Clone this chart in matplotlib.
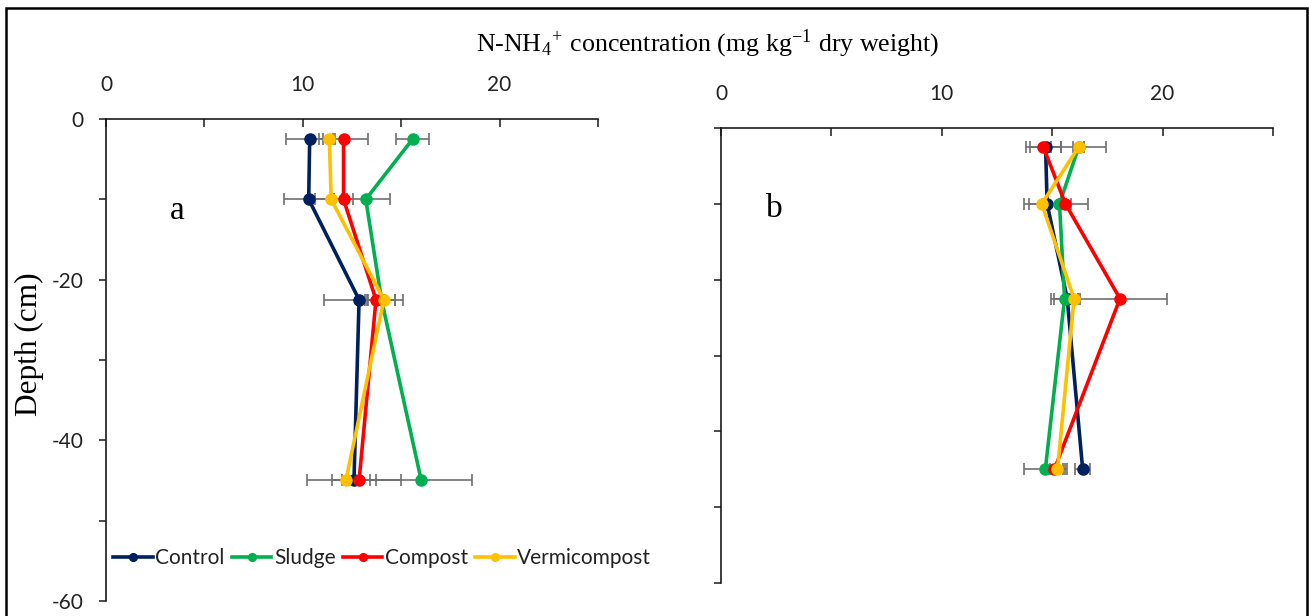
import matplotlib
matplotlib.use("Agg")
import matplotlib.pyplot as plt
from matplotlib.patches import Rectangle
from matplotlib.ticker import FixedLocator

# Sampling depths (cm, negative downwards)
depth = [-2.5, -10, -22.5, -45]

series_names = ["Control", "Sludge", "Compost", "Vermicompost"]
series_colors = ["#002060", "#00B050", "#FF0000", "#FFC000"]

# Panel a: N-NH4+ (mg/kg dry weight) and standard errors
control_a = [10.35, 10.3, 12.86, 12.6]
control_a_err = [1.18, 1.26, 1.8, 2.4]
sludge_a = [15.58, 13.2, 14.0, 16.02]
sludge_a_err = [0.82, 1.23, 0.7, 2.58]
compost_a = [12.07, 12.07, 13.72, 12.86]
compost_a_err = [1.23, 0.5, 0.45, 0.86]
vermi_a = [11.35, 11.44, 14.12, 12.19]
vermi_a_err = [0.3, 0.82, 0.95, 0.7]

# Panel b
control_b = [14.7, 14.77, 15.68, 16.38]
control_b_err = [0.7, 0.84, 0.6, 0.35]
sludge_b = [16.2, 15.33, 15.56, 14.69]
sludge_b_err = [0.25, 0.5, 0.6, 0.96]
compost_b = [14.6, 15.6, 18.07, 15.1]
compost_b_err = [0.78, 1.03, 2.14, 0.4]
vermi_b = [16.2, 14.53, 15.99, 15.24]
vermi_b_err = [1.25, 0.8, 0.2, 0.35]

x_major = [0, 10, 20]
x_minor = [5, 15, 25]
y_major = [0, -20, -40, -60]
y_minor = [-10, -30, -50]
y_ticklabels = ["0", "-20", "-40", "-60"]

plt.rcParams["mathtext.fontset"] = "stix"
TICK_FONT = "Lato"
SERIF = "Liberation Serif"

W, H = 1309, 616
fig = plt.figure(figsize=(W / 100, H / 100), dpi=100)
fig.patch.set_facecolor("white")


def px_axes(left, top, right, bottom):
    return fig.add_axes([left / W, 1 - bottom / H, (right - left) / W, (bottom - top) / H])


def fig_text(x, y, s, **kw):
    return fig.text(x / W, 1 - y / H, s, **kw)


ax_a = px_axes(106, 119, 598, 601)
ax_b = px_axes(721, 128, 1273, 583)


def style_axes(ax, xpad, ylabels=True):
    ax.set_xlim(0, 25)
    ax.set_ylim(-60, 0)
    for side in ("bottom", "right"):
        ax.spines[side].set_visible(False)
    for side in ("top", "left"):
        ax.spines[side].set_linewidth(1.2)
        ax.spines[side].set_color("#1a1a1a")
    ax.xaxis.tick_top()
    ax.xaxis.set_major_locator(FixedLocator(x_major))
    ax.xaxis.set_minor_locator(FixedLocator(x_minor))
    ax.yaxis.set_major_locator(FixedLocator(y_major))
    ax.yaxis.set_minor_locator(FixedLocator(y_minor))
    ax.tick_params(axis="x", which="both", direction="in", length=5.5, width=1.1,
                   color="#1a1a1a", pad=xpad, labelsize=15, top=True, bottom=False)
    ax.tick_params(axis="y", which="both", direction="out", length=5, width=1.1,
                   color="#1a1a1a", pad=11, labelsize=15, labelleft=ylabels)
    if ylabels:
        ax.set_yticklabels(y_ticklabels)
    for lab in ax.get_xticklabels() + ax.get_yticklabels():
        lab.set_fontfamily(TICK_FONT)
        lab.set_color("#222222")
    ax.set_facecolor("none")


def draw_series(ax, values, errors):
    handles = []
    for vals, errs, name, col in zip(values, errors, series_names, series_colors):
        ax.errorbar(vals, depth, xerr=errs, fmt="none", ecolor="#707070",
                    elinewidth=1.2, capsize=4.5, capthick=1.2, zorder=2)
        h, = ax.plot(vals, depth, color=col, lw=2.6, marker="o", markersize=8,
                     markeredgecolor=col, label=name, zorder=3)
        handles.append(h)
    return handles


handles = draw_series(ax_a, [control_a, sludge_a, compost_a, vermi_a],
                      [control_a_err, sludge_a_err, compost_a_err, vermi_a_err])
draw_series(ax_b, [control_b, sludge_b, compost_b, vermi_b],
            [control_b_err, sludge_b_err, compost_b_err, vermi_b_err])

style_axes(ax_a, xpad=17.5, ylabels=True)
style_axes(ax_b, xpad=17.5, ylabels=False)

# Panel letters
fig_text(177, 211, "a", fontsize=24, family=SERIF, ha="center", va="center")
fig_text(774, 209, "b", fontsize=24, family=SERIF, ha="center", va="center")

# Common labels
fig_text(708, 44,
         r"N-NH$_\mathregular{4}$$^\mathregular{+}$ concentration (mg kg$^\mathregular{-1}$ dry weight)",
         family=SERIF, fontsize=18.6, ha="center", va="center")
fig_text(29, 344, "Depth (cm)", family=SERIF, fontsize=22.5,
         rotation=90, ha="center", va="center")

# Legend along the bottom of panel a
leg = fig.legend(handles=handles, loc="center left",
                 bbox_to_anchor=(113 / W, 1 - 558 / H), ncol=4, frameon=False,
                 prop={"family": TICK_FONT, "size": 15}, handlelength=1.9,
                 handletextpad=0.12, columnspacing=0.35, borderpad=0, borderaxespad=0,
                 markerscale=0.7)
for txt in leg.get_texts():
    txt.set_color("#222222")

# Outer frame around the whole figure
fig.patches.append(Rectangle((6 / W, -0.2), (1307 - 6) / W, 1.2 - 8 / H,
                             transform=fig.transFigure, fill=False,
                             edgecolor="black", linewidth=1.8))

fig.savefig("out.png", dpi=100, facecolor="white")
